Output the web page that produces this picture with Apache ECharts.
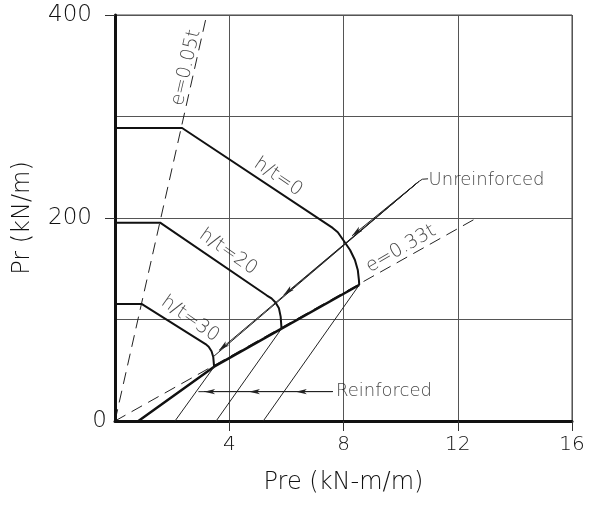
<!DOCTYPE html>
<html>
<head>
<meta charset="utf-8">
<script src="https://cdn.jsdelivr.net/npm/echarts@6/dist/echarts.min.js"></script>
<style>html,body{margin:0;padding:0;background:#fff}#c{width:591px;height:509px}</style>
</head>
<body>
<div id="c"></div>
<script>
// ---- data ----
const xTickValues = [4, 8, 12, 16];
const yTickValues = [200, 400];
const yLabelValues = [0, 200, 400];

const ht0 = [[0, 288.7], [2.35, 288.7], [7.62, 190.2], [7.80, 186.0], [7.99, 178.3], [8.23, 168.5], [8.40, 158.6], [8.50, 148.8], [8.54, 138.9], [8.55, 134]];
const ht20 = [[0, 195.4], [1.58, 195.4], [5.32, 123.6], [5.48, 120.8], [5.62, 116.8], [5.74, 111], [5.80, 102.8], [5.83, 91]];
const ht30 = [[0, 115.3], [0.93, 115.3], [3.17, 75.8], [3.28, 73.2], [3.38, 68.8], [3.44, 63], [3.47, 53.5]];
const reinforcedEnvelope = [[0.82, 0], [3.47, 53.5], [5.83, 91], [8.55, 134]];
const reinforcedLine1 = [[2.10, 0], [3.47, 53.5]];
const reinforcedLine2 = [[3.54, 0], [5.83, 91]];
const reinforcedLine3 = [[5.19, 0], [8.55, 134]];
const e005 = [[0, 0], [3.21, 400]];
const e033 = [[0, 0], [12.6, 199]];
const unreinforcedLeader = [[3.44, 63.3], [10.63, 235.8], [10.76, 238.2], [10.96, 238.6]];
const unreinforcedArrows = [[8.30, 182.5], [5.90, 124], [3.64, 69.5]];
const reinforcedLeader = [[2.92, 28.9], [7.62, 28.9]];
const reinforcedArrows = [[3.12, 28.9], [4.69, 28.9], [6.33, 28.9]];
const textLabels = [
  { text: 'h/t=0', x: 5.71, y: 240.4, rotate: -34 },
  { text: 'h/t=20', x: 3.96, y: 166.5, rotate: -35 },
  { text: 'h/t=30', x: 2.63, y: 100.5, rotate: -35 },
  { text: 'e=0.05t', x: 2.49, y: 348, rotate: 77 },
  { text: 'e=0.33t', x: 10.01, y: 169.5, rotate: 30 }
];
const sideLabels = [
  { text: 'Unreinforced', x: 10.98, y: 237.6 },
  { text: 'Reinforced', x: 7.74, y: 29.2 }
];

// ---- chart ----
const FONT = 'DejaVu Sans';
const TXT = '#111';
const chart = echarts.init(document.getElementById('c'), null, { renderer: 'canvas' });

function lineSeries(name, data, width, type, color) {
  return {
    name: name, type: 'line', data: data, symbol: 'none', silent: true,
    animation: false,
    lineStyle: { width: width, color: color || '#111', type: type || 'solid' },
    z: 3
  };
}

const leaderSeries = lineSeries('unreinforcedLeader', unreinforcedLeader, 1, 'solid', '#222');
leaderSeries.markLine = {
  silent: true, animation: false,
  symbol: ['none', 'arrow'], symbolSize: [4, 11],
  label: { show: false },
  lineStyle: { color: '#222', width: 1, type: 'solid' },
  data: unreinforcedArrows.map(p => [{ coord: unreinforcedLeader[1] }, { coord: p }])
};
const reinfSeries = lineSeries('reinforcedLeader', reinforcedLeader, 1, 'solid', '#222');
reinfSeries.markLine = {
  silent: true, animation: false,
  symbol: ['none', 'arrow'], symbolSize: [4, 11],
  label: { show: false },
  lineStyle: { color: '#222', width: 1, type: 'solid' },
  data: reinforcedArrows.map(p => [{ coord: reinforcedLeader[1] }, { coord: p }])
};

const option = {
  animation: false,
  backgroundColor: '#fff',
  grid: { left: 115, right: 19, top: 15, bottom: 88, show: true, borderColor: '#444', borderWidth: 1 },
  xAxis: {
    type: 'value', min: 0, max: 16, interval: 4,
    name: 'Pre (kN-m/m)', nameLocation: 'middle', nameGap: 50,
    nameTextStyle: { fontFamily: FONT, fontSize: 24, color: TXT, fontWeight: 200 },
    axisLine: { show: true, onZero: false, lineStyle: { color: '#111', width: 3 } },
    axisTick: { show: true, length: 10, customValues: xTickValues, lineStyle: { color: '#333', width: 1 } },
    axisLabel: { customValues: xTickValues, margin: 14, fontFamily: FONT, fontSize: 20, color: TXT, fontWeight: 200 },
    splitLine: { show: true, lineStyle: { color: '#555', width: 1 } }
  },
  yAxis: [{
    type: 'value', min: 0, max: 400, interval: 100,
    name: 'Pr (kN/m)', nameLocation: 'middle', nameGap: 80,
    nameTextStyle: { fontFamily: FONT, fontSize: 24, color: TXT, fontWeight: 200 },
    axisLine: { show: true, onZero: false, lineStyle: { color: '#111', width: 3 } },
    axisTick: { show: true, length: 10, customValues: yTickValues, lineStyle: { color: '#333', width: 1 } },
    axisLabel: {
      customValues: yLabelValues, margin: 8,
      formatter: v => (v === 0 ? '{z|0}' : '{n|' + v + '}'),
      rich: {
        z: { fontFamily: FONT, fontSize: 23, color: TXT, fontWeight: 200 },
        n: { fontFamily: FONT, fontSize: 23, color: TXT, fontWeight: 200, padding: [0, 15, 0, 0] }
      }
    },
    splitLine: { show: false },
    z: 4
  }, {
    type: 'value', min: 0, max: 400, interval: 100, position: 'left',
    axisLine: { show: false }, axisTick: { show: false }, axisLabel: { show: false },
    splitLine: { show: true, lineStyle: { color: '#555', width: 1 } }
  }],
  series: [
    lineSeries('e=0.05t', e005, 1, [12, 7], '#222'),
    lineSeries('e=0.33t', e033, 1, [12, 7], '#222'),
    lineSeries('h/t=0', ht0, 2),
    lineSeries('h/t=20', ht20, 2),
    lineSeries('h/t=30', ht30, 2),
    lineSeries('reinforced', reinforcedEnvelope, 2.5),
    lineSeries('r1', reinforcedLine1, 1, 'solid', '#222'),
    lineSeries('r2', reinforcedLine2, 1, 'solid', '#222'),
    lineSeries('r3', reinforcedLine3, 1, 'solid', '#222'),
    leaderSeries,
    reinfSeries,
    {
      type: 'scatter', symbolSize: 0, silent: true, z: 5,
      data: textLabels.map(d => ({
        value: [d.x, d.y],
        label: { show: true, position: 'inside', formatter: d.text, rotate: d.rotate,
          fontFamily: FONT, fontSize: 19, color: TXT, fontWeight: 200 }
      }))
    },
    {
      type: 'scatter', symbolSize: 0, silent: true, z: 5,
      data: sideLabels.map(d => ({
        value: [d.x, d.y],
        label: { show: true, position: 'right', distance: 0, formatter: d.text,
          fontFamily: FONT, fontSize: 18, color: TXT, fontWeight: 200 }
      }))
    }
  ]
};
chart.setOption(option);
</script>
</body>
</html>
